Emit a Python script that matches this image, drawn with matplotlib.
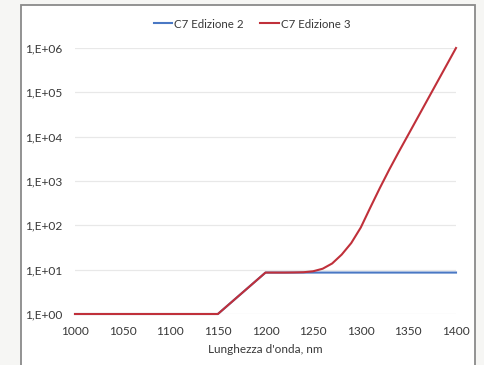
import matplotlib.pyplot as plt
from matplotlib.patches import Rectangle
from matplotlib.ticker import FixedLocator, FixedFormatter

# Attenuazione vs lunghezza d'onda
lunghezza_ed2 = [1000, 1150, 1200, 1400]
valori_ed2 = [1, 1, 8.6, 8.6]

lunghezza_ed3 = [1000, 1150, 1200, 1210, 1220, 1230, 1240, 1250, 1260, 1270, 1280,
                 1290, 1300, 1310, 1320, 1330, 1340, 1350, 1360, 1370, 1380, 1390, 1400]
valori_ed3 = [1, 1, 8.6, 8.6, 8.6, 8.65, 8.75, 9.2, 10.5, 13.8, 21.9,
              39.8, 89, 251, 692, 1820, 4570, 11200, 27500, 67600, 166000, 407000, 1000000]

etichette_y = ['1,E+00', '1,E+01', '1,E+02', '1,E+03', '1,E+04', '1,E+05', '1,E+06']
tick_y = [1, 10, 100, 1000, 1e4, 1e5, 1e6]
tick_x = [1000, 1050, 1100, 1150, 1200, 1250, 1300, 1350, 1400]

plt.rcParams['font.family'] = ['Lato', 'DejaVu Sans']
testo = '#383838'

fig = plt.figure(figsize=(4.85, 3.65), dpi=100, facecolor='#f6f6f4')
# cornice del grafico
fig.patches.append(Rectangle((21 / 485, -0.05), 454 / 485, 1 - 5 / 365 + 0.05,
                             transform=fig.transFigure, facecolor='white',
                             edgecolor='#8a8a8a', linewidth=1.3, zorder=-1))

ax = fig.add_axes([75 / 485, 1 - 314 / 365, 381 / 485, 266 / 365])
ax.set_facecolor('none')

ax.plot(lunghezza_ed2, valori_ed2, color='#4a78c4', lw=1.5, label='C7 Edizione 2', clip_on=False, zorder=3)
ax.plot(lunghezza_ed3, valori_ed3, color='#c0303a', lw=1.5, label='C7 Edizione 3', clip_on=False, zorder=4)

ax.set_yscale('log')
ax.set_ylim(1, 1e6)
ax.set_xlim(1000, 1400)
ax.yaxis.set_major_locator(FixedLocator(tick_y))
ax.yaxis.set_major_formatter(FixedFormatter(etichette_y))
ax.yaxis.set_minor_locator(FixedLocator([]))
ax.set_xticks(tick_x)

ax.grid(axis='y', color='#e8e8e8', lw=0.9)
ax.grid(axis='x', visible=False)
for s in ax.spines.values():
    s.set_visible(False)
ax.tick_params(axis='both', length=0, labelsize=8.6, colors=testo)
ax.tick_params(axis='y', pad=9)
ax.tick_params(axis='x', pad=8.5)

ax.set_xlabel("Lunghezza d'onda, nm", fontsize=8.5, color=testo, labelpad=5)

fig.legend(loc='center', bbox_to_anchor=(252 / 485, 1 - 24 / 365), ncol=2, frameon=False,
           fontsize=8.3, labelcolor=testo, handlelength=1.6, handletextpad=0.2, columnspacing=1.4)

fig.savefig('out.png', dpi=100, facecolor=fig.get_facecolor())
